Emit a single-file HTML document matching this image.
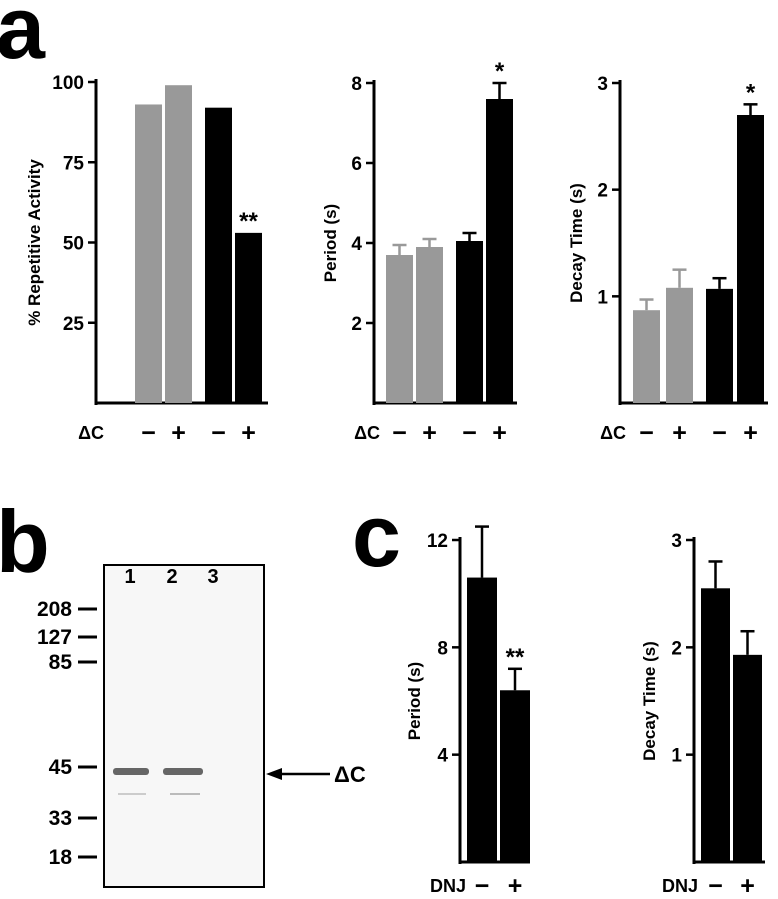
<!DOCTYPE html>
<html><head><meta charset="utf-8"><style>
body{margin:0;background:#fff}
svg{display:block;font-family:"Liberation Sans",Arial,sans-serif}
</style></head><body>
<svg id="fig" width="778" height="899" viewBox="0 0 778 899">
<text x="-4" y="58" font-size="88" font-weight="bold">a</text>
<text x="-4" y="572" font-size="88" font-weight="bold">b</text>
<text x="352" y="566" font-size="88" font-weight="bold">c</text>
<g id="gel">
<rect x="104" y="565" width="160" height="322" fill="#f7f7f7" stroke="#000" stroke-width="2"/>
<text x="130" y="583" font-size="20" font-weight="bold" text-anchor="middle">1</text>
<text x="172" y="583" font-size="20" font-weight="bold" text-anchor="middle">2</text>
<text x="213" y="583" font-size="20" font-weight="bold" text-anchor="middle">3</text>
<rect x="113" y="768" width="36" height="7" rx="3" fill="#666"/>
<rect x="163" y="768" width="40" height="7" rx="3" fill="#666"/>
<rect x="118" y="793" width="28" height="2" fill="#ccc"/>
<rect x="170" y="793" width="30" height="2" fill="#bbb"/>
<line x1="330" y1="774" x2="278" y2="774" stroke="#000" stroke-width="2.5"/>
<polygon points="266,774 282,768 282,780" fill="#000"/>
<text x="334" y="782" font-size="22" font-weight="bold">ΔC</text>
</g>
<g id="charts"></g>
</svg>
<script>
const markerLabels=["208","127","85","45","33","18"];
const markerY=[609,637,662,767,818,857];
const a1Vals=[93,99,92,53], a1Err=[null,null,null,null], a1Ticks=[25,50,75,100];
const a2Vals=[3.7,3.9,4.05,7.6], a2Err=[3.95,4.1,4.25,8.0], a2Ticks=[2,4,6,8];
const a3Vals=[0.87,1.08,1.07,2.7], a3Err=[0.97,1.25,1.17,2.8], a3Ticks=[1,2,3];
const c1Vals=[10.6,6.4], c1Err=[12.5,7.2], c1Ticks=[4,8,12];
const c2Vals=[2.55,1.93], c2Err=[2.8,2.15], c2Ticks=[1,2,3];
const aSigns=["−","+","−","+"], cSigns=["−","+"];
const NS="http://www.w3.org/2000/svg";
const root=document.getElementById('charts');
function mk(t,a,p){const e=document.createElementNS(NS,t);for(const k in a)e.setAttribute(k,a[k]);(p||root).appendChild(e);return e;}
const gel=document.getElementById('gel');
markerLabels.forEach((l,i)=>{
 const t=mk('text',{x:72,y:markerY[i]+7,'font-size':21,'font-weight':'bold','text-anchor':'end'},gel);t.textContent=l;
 
 
 mk('line',{x1:78,x2:97,y1:markerY[i],y2:markerY[i],stroke:'#000','stroke-width':3},gel);
});
function chart(o){
 const g=mk('g',{});
 
 
 const y=v=>o.y0-(v/o.max)*(o.y0-o.yTop);
 mk('line',{x1:o.ax,x2:o.ax,y1:o.yTop-3,y2:o.y0+2,stroke:'#000','stroke-width':3},g);
 mk('line',{x1:o.ax,x2:o.bx,y1:o.y0,y2:o.y0,stroke:'#000','stroke-width':3},g);
 o.ticks.forEach(t=>{
  mk('line',{x1:o.ax-8,x2:o.ax,y1:y(t),y2:y(t),stroke:'#000','stroke-width':2.5},g);
  const tx=mk('text',{x:o.ax-12,y:y(t)+7,'font-size':19,'font-weight':'bold','text-anchor':'end'},g);tx.textContent=t;
  
  
 });
 const yt=mk('text',{transform:`translate(${o.titleX},${(o.y0+o.yTop)/2}) rotate(-90)`,'font-size':17,'font-weight':'bold','text-anchor':'middle'},g);
 yt.textContent=o.title;
 
 
 o.vals.forEach((v,i)=>{
  const b=mk('rect',{x:o.bxs[i],y:y(v),width:o.bw,height:o.y0-y(v),fill:o.cols[i]},g);
  
  
  const cx=o.bxs[i]+o.bw/2;
  if(o.err[i]!=null){
   mk('line',{x1:cx,x2:cx,y1:y(o.err[i]),y2:y(v),stroke:o.cols[i],'stroke-width':2.5},g);
   mk('line',{x1:cx-7,x2:cx+7,y1:y(o.err[i]),y2:y(o.err[i]),stroke:o.cols[i],'stroke-width':2.5},g);
  }
  if(o.stars&&o.stars[i]){const s=mk('text',{x:cx,y:(o.err[i]!=null?y(o.err[i]):y(v))-4,'font-size':24,'font-weight':'bold','text-anchor':'middle'},g);s.textContent=o.stars[i];
   
   }
  const sg=mk('text',{x:cx,y:o.signY,'font-size':25,'font-weight':'bold','text-anchor':'middle'},g);sg.textContent=o.signs[i];
  
  
 });
 const lb=mk('text',{x:o.labX,y:o.signY-2,'font-size':18,'font-weight':'bold','text-anchor':'end'},g);lb.textContent=o.lab;
 
 
}
const G='#999',K='#000',A=[G,G,K,K];
chart({name:'repetitive-activity-chart',ax:96,bx:268,y0:403,yTop:82,max:100,ticks:a1Ticks,vals:a1Vals,err:a1Err,bxs:[135,165,205,235],bw:27,cols:A,stars:[0,0,0,'**'],title:'% Repetitive Activity',titleX:40,signs:aSigns,signY:441,labX:104,lab:'ΔC'});
chart({name:'period-chart',ax:374,bx:517,y0:403,yTop:83,max:8,ticks:a2Ticks,vals:a2Vals,err:a2Err,bxs:[386,416,456,486],bw:27,cols:A,stars:[0,0,0,'*'],title:'Period (s)',titleX:336,signs:aSigns,signY:441,labX:380,lab:'ΔC'});
chart({name:'decay-time-chart',ax:620,bx:768,y0:403,yTop:83,max:3,ticks:a3Ticks,vals:a3Vals,err:a3Err,bxs:[633,666,706,737],bw:27,cols:A,stars:[0,0,0,'*'],title:'Decay Time (s)',titleX:582,signs:aSigns,signY:441,labX:626,lab:'ΔC'});
chart({name:'dnj-period-chart',ax:460,bx:530,y0:862,yTop:540,max:12,ticks:c1Ticks,vals:c1Vals,err:c1Err,bxs:[467,500],bw:30,cols:[K,K],stars:[0,'**'],title:'Period (s)',titleX:420,signs:cSigns,signY:894,labX:466,lab:'DNJ'});
chart({name:'dnj-decay-time-chart',ax:694,bx:765,y0:862,yTop:540,max:3,ticks:c2Ticks,vals:c2Vals,err:c2Err,bxs:[701,733],bw:29,cols:[K,K],stars:[0,0],title:'Decay Time (s)',titleX:655,signs:cSigns,signY:894,labX:698,lab:'DNJ'});
</script>
</body></html>
